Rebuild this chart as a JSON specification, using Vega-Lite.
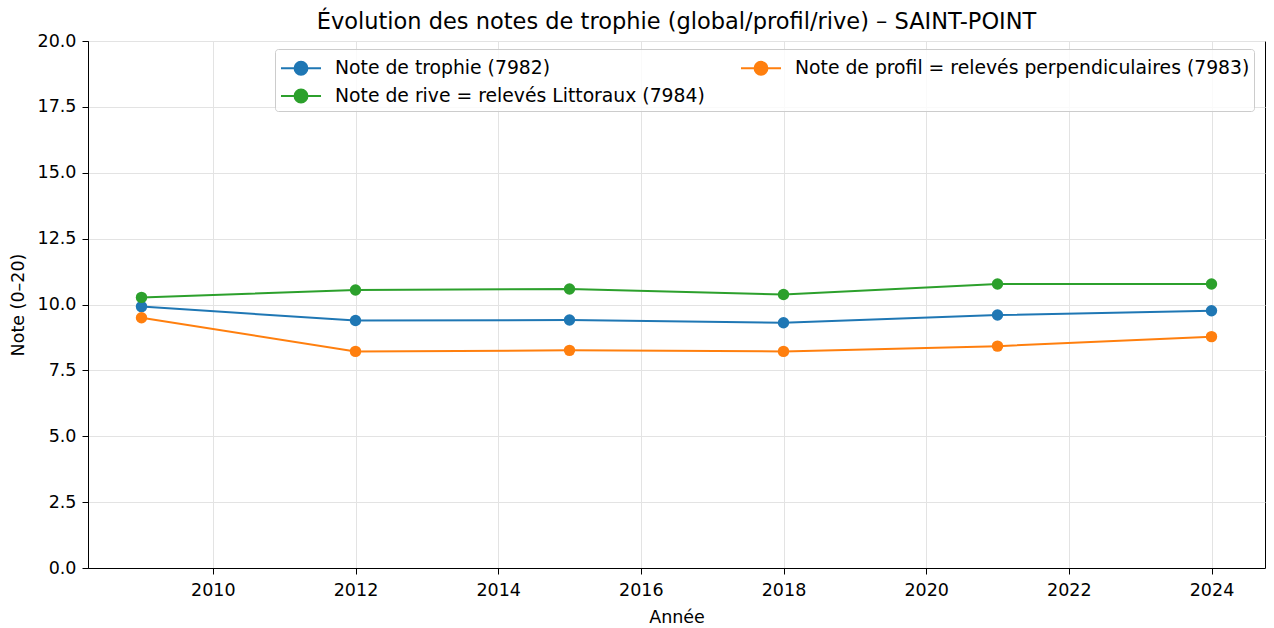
{
  "$schema": "https://vega.github.io/schema/vega-lite/v6.json",
  "autosize": "none",
  "width": 1177,
  "height": 527,
  "padding": {"left": 88, "top": 41, "right": 9, "bottom": 60},
  "background": "white",
  "title": {
    "text": "Évolution des notes de trophie (global/profil/rive) – SAINT-POINT",
    "font": "DejaVu Sans",
    "fontSize": 22.5,
    "fontWeight": "normal",
    "color": "#000",
    "offset": -1,
    "anchor": "middle"
  },
  "config": {
    "font": "DejaVu Sans",
    "view": {"stroke": "#000", "strokeWidth": 1},
    "axis": {
      "labelFont": "DejaVu Sans",
      "labelFontSize": 17.5,
      "labelColor": "#000",
      "titleFont": "DejaVu Sans",
      "titleFontSize": 17.5,
      "titleFontWeight": "normal",
      "titleColor": "#000",
      "tickColor": "#000",
      "tickSize": 6,
      "domainColor": "#000",
      "gridColor": "#e3e3e3",
      "gridOpacity": 1
    }
  },
  "data": {
    "values": [
      {"annee": 2009, "serie": "Note de trophie (7982)", "note": 9.92},
      {"annee": 2012, "serie": "Note de trophie (7982)", "note": 9.39},
      {"annee": 2015, "serie": "Note de trophie (7982)", "note": 9.41},
      {"annee": 2018, "serie": "Note de trophie (7982)", "note": 9.31},
      {"annee": 2021, "serie": "Note de trophie (7982)", "note": 9.60},
      {"annee": 2024, "serie": "Note de trophie (7982)", "note": 9.76},
      {"annee": 2009, "serie": "Note de profil = relevés perpendiculaires (7983)", "note": 9.50},
      {"annee": 2012, "serie": "Note de profil = relevés perpendiculaires (7983)", "note": 8.22},
      {"annee": 2015, "serie": "Note de profil = relevés perpendiculaires (7983)", "note": 8.26},
      {"annee": 2018, "serie": "Note de profil = relevés perpendiculaires (7983)", "note": 8.22},
      {"annee": 2021, "serie": "Note de profil = relevés perpendiculaires (7983)", "note": 8.42},
      {"annee": 2024, "serie": "Note de profil = relevés perpendiculaires (7983)", "note": 8.78},
      {"annee": 2009, "serie": "Note de rive = relevés Littoraux (7984)", "note": 10.27},
      {"annee": 2012, "serie": "Note de rive = relevés Littoraux (7984)", "note": 10.55},
      {"annee": 2015, "serie": "Note de rive = relevés Littoraux (7984)", "note": 10.59},
      {"annee": 2018, "serie": "Note de rive = relevés Littoraux (7984)", "note": 10.38},
      {"annee": 2021, "serie": "Note de rive = relevés Littoraux (7984)", "note": 10.78},
      {"annee": 2024, "serie": "Note de rive = relevés Littoraux (7984)", "note": 10.78}
    ]
  },
  "encoding": {
    "x": {
      "field": "annee",
      "type": "quantitative",
      "title": "Année",
      "scale": {"domain": [2008.25, 2024.75], "nice": false, "zero": false},
      "axis": {"values": [2010, 2012, 2014, 2016, 2018, 2020, 2022, 2024], "format": "d", "titleY": 40, "labelPadding": 7}
    },
    "y": {
      "field": "note",
      "type": "quantitative",
      "title": "Note (0–20)",
      "scale": {"domain": [0, 20], "nice": false},
      "axis": {"values": [0, 2.5, 5, 7.5, 10, 12.5, 15, 17.5, 20], "format": ".1f", "titlePadding": 10, "labelPadding": 6}
    },
    "color": {
      "field": "serie",
      "type": "nominal",
      "scale": {
        "domain": ["Note de trophie (7982)", "Note de rive = relevés Littoraux (7984)", "Note de profil = relevés perpendiculaires (7983)"],
        "range": ["#1f77b4", "#2ca02c", "#ff7f0e"]
      },
      "legend": {
        "title": null,
        "orient": "none",
        "legendX": 187,
        "legendY": 8,
        "columns": 2,
        "columnPadding": 31,
        "rowPadding": 2,
        "padding": 4,
        "strokeColor": "#cccccc",
        "fillColor": "rgba(255,255,255,0.8)",
        "cornerRadius": 3,
        "labelFont": "DejaVu Sans",
        "labelFontSize": 18.8,
        "labelColor": "#000",
        "labelLimit": 0,
        "labelOffset": 19,
        "symbolOffset": 7,
        "symbolType": "M-1.43,0L1.43,0M0.46,0A0.46,0.46,0,1,1,-0.46,0A0.46,0.46,0,1,1,0.46,0Z",
        "symbolSize": 784,
        "symbolStrokeWidth": 2,
        "symbolOpacity": 1,
        "encode": {
          "symbols": {
            "update": {
              "fill": {"scale": "color", "field": "value"},
              "stroke": {"scale": "color", "field": "value"},
              "fillOpacity": {"value": 1}
            }
          }
        }
      }
    }
  },
  "layer": [
    {"mark": {"type": "line", "strokeWidth": 2}},
    {"mark": {"type": "point", "filled": true, "size": 130, "opacity": 1}}
  ]
}
